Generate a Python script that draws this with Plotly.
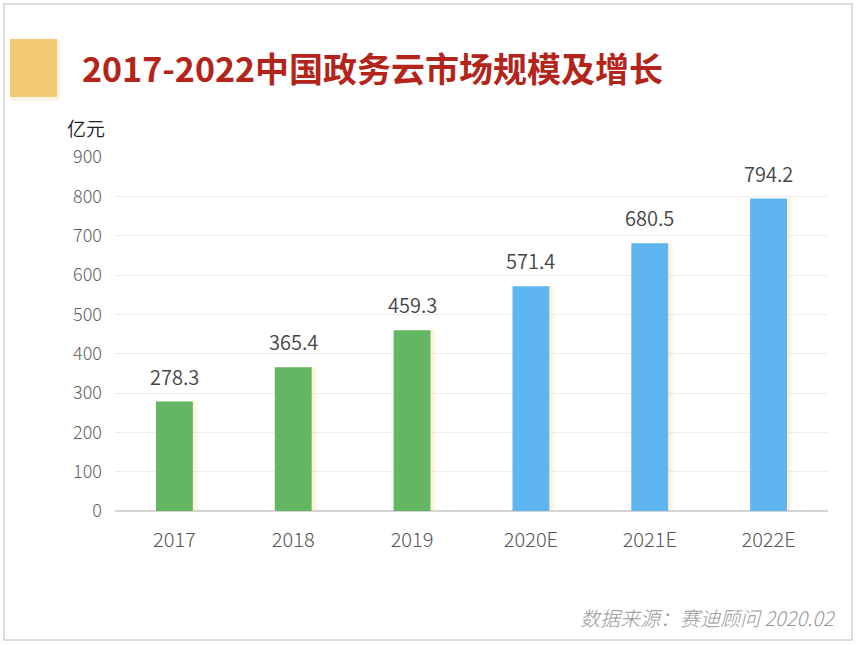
import plotly.graph_objects as go

categories = ["2017", "2018", "2019", "2020E", "2021E", "2022E"]
values = [278.3, 365.4, 459.3, 571.4, 680.5, 794.2]
bar_colors = ["#63B762", "#63B762", "#63B762", "#5EB5F0", "#5EB5F0", "#5EB5F0"]
y_ticks = [0, 100, 200, 300, 400, 500, 600, 700, 800, 900]

title_text = "2017-2022中国政务云市场规模及增长"
unit_text = "亿元"
source_text = "数据来源：赛迪顾问 2020.02"

FONT = "Noto Sans CJK SC, Noto Sans, sans-serif"

L, R, T, B = 115, 828, 157, 511
W, H = 857, 645


def px(x):
    return (x - L) / (R - L)


def py(y):
    return (B - y) / (B - T)


bw = 0.31
fig = go.Figure()
# soft shadow behind bars
fig.add_trace(go.Bar(x=categories, y=values, width=bw + 0.045, offset=-bw / 2,
                     marker=dict(color="rgba(252,215,150,0.15)", line=dict(width=0)),
                     hoverinfo="skip", showlegend=False))
fig.add_trace(go.Bar(x=categories, y=values, width=bw + 0.025, offset=-bw / 2,
                     marker=dict(color="rgba(252,215,150,0.25)", line=dict(width=0)),
                     hoverinfo="skip", showlegend=False))
fig.add_trace(go.Bar(x=categories, y=values, width=bw, offset=-bw / 2,
                     marker=dict(color=bar_colors, line=dict(width=0)),
                     showlegend=False))

for i, v in enumerate(values):
    fig.add_annotation(x=i, y=v, text=f"{v:.1f}", showarrow=False, xref="x", yref="y",
                       yanchor="bottom", yshift=9,
                       font=dict(family=FONT, size=20, color="#444444", weight=350))

shapes = [
    dict(type="rect", xref="paper", yref="paper", x0=px(4), x1=px(852), y0=py(640), y1=py(4),
         line=dict(color="#DDDDDD", width=2), fillcolor="rgba(0,0,0,0)", layer="below"),
    dict(type="rect", xref="paper", yref="paper", x0=px(11), x1=px(60), y0=py(101), y1=py(40),
         line=dict(width=0), fillcolor="rgba(240,200,120,0.2)", layer="below"),
    dict(type="rect", xref="paper", yref="paper", x0=px(10), x1=px(57), y0=py(97), y1=py(39),
         line=dict(width=0), fillcolor="#F3CA72", layer="below"),
]

annotations = [
    dict(x=px(80), y=py(68), xref="paper", yref="paper", xanchor="left", yanchor="middle",
         text=f"<b>{title_text}</b>", showarrow=False,
         font=dict(family=FONT, size=34, color="#B3251A")),
    dict(x=px(65), y=py(127), xref="paper", yref="paper", xanchor="left", yanchor="middle",
         text=unit_text, showarrow=False, font=dict(family=FONT, size=19, color="#222222", weight=350)),
    dict(x=px(838), y=py(617), xref="paper", yref="paper", xanchor="right", yanchor="middle",
         text=f"<i>{source_text}</i>", showarrow=False,
         font=dict(family=FONT, size=20, color="#999999", weight=300)),
]

fig.update_layout(
    width=W, height=H,
    margin=dict(l=L, r=W - R, t=T, b=H - B, pad=0),
    paper_bgcolor="white", plot_bgcolor="white",
    barmode="overlay",
    shapes=shapes,
    annotations=list(fig.layout.annotations) + annotations,
    font=dict(family=FONT),
)
fig.update_xaxes(type="category", range=[-0.5, len(categories) - 0.5], showgrid=False, ticks="",
                 showline=False, zeroline=False,
                 tickfont=dict(family=FONT, size=20, color="#555555", weight=300),
                 ticklabelstandoff=15)
fig.update_yaxes(range=[0, 900], tickvals=y_ticks, showgrid=True, gridcolor="#EDEDED", gridwidth=1,
                 zeroline=True, zerolinecolor="#D5D5D5", zerolinewidth=1.5, showline=False, ticks="",
                 tickfont=dict(family=FONT, size=18, color="#5E5E5E", weight=300), ticklabelstandoff=12)

fig.write_html("out.html", config={"displayModeBar": False},
               post_script="document.body.style.margin='0';document.body.style.padding='0';")
